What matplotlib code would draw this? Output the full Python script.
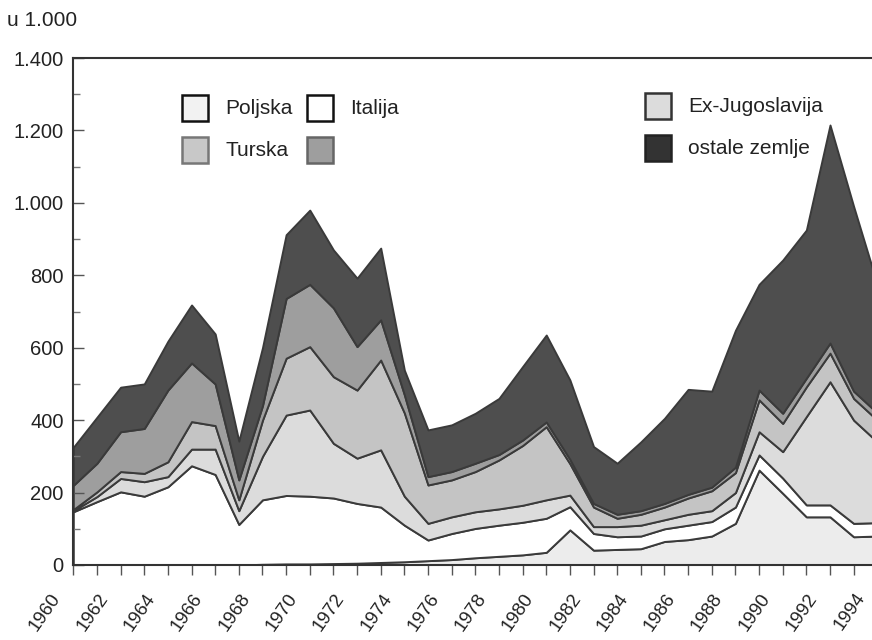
import numpy as np
import matplotlib.pyplot as plt
from matplotlib.patches import Rectangle
from matplotlib.ticker import MultipleLocator, FuncFormatter
import matplotlib.transforms as mtransforms

plt.rcParams['font.family'] = ['Liberation Sans', 'DejaVu Sans']

# u 1.000
years = np.arange(1960, 1995)
poljska = [0, 0, 0, 0, 0, 0, 0, 0, 2, 3, 3, 4, 5, 7, 9, 12, 15, 20, 24, 28,
           35, 97, 41, 43, 45, 65, 70, 80, 115, 262, 198, 133, 133, 78, 80]
italija = [147, 175, 202, 190, 216, 274, 250, 112, 178, 189, 187, 181, 165, 153, 101, 57, 72, 81, 86, 90,
           94, 64, 46, 35, 35, 35, 40, 40, 45, 42, 42, 33, 33, 37, 37]
ex_jugoslavija = [3, 14, 37, 40, 28, 46, 70, 38, 120, 222, 238, 151, 125, 158, 80, 46, 46, 46, 45, 47,
                  51, 32, 19, 28, 30, 25, 30, 30, 40, 64, 73, 244, 340, 285, 223]
turska = [3, 13, 19, 23, 41, 76, 65, 30, 100, 157, 175, 184, 188, 248, 230, 106, 102, 111, 135, 165,
          202, 87, 54, 23, 30, 35, 45, 55, 55, 88, 78, 82, 79, 60, 60]
grcka = [67, 79, 110, 124, 198, 162, 115, 55, 40, 165, 172, 190, 120, 111, 50, 23, 23, 23, 15, 15,
         13, 12, 10, 11, 10, 10, 10, 10, 15, 27, 28, 24, 28, 20, 20]
ostale = [105, 127, 123, 123, 135, 160, 138, 107, 160, 176, 205, 160, 189, 198, 68, 129, 129, 138, 155, 203,
          240, 219, 157, 141, 190, 235, 290, 265, 378, 292, 423, 409, 602, 510, 355]

series = [poljska, italija, ex_jugoslavija, turska, grcka, ostale]
boje = ['#ececec', '#ffffff', '#dcdcdc', '#c4c4c4', '#9e9e9e', '#4e4e4e']
rub = '#3a3a3a'

fig = plt.figure(figsize=(8.72, 6.40), dpi=100)
ax = fig.add_axes([73.3 / 872, 75 / 640, 804 / 872, 507 / 640])

ax.stackplot(years, series, colors=boje, edgecolor=rub, linewidth=1.4)

ax.set_xlim(1960, 1994)
ax.set_ylim(0, 1400)

ax.yaxis.set_major_locator(MultipleLocator(200))
ax.yaxis.set_minor_locator(MultipleLocator(100))
ax.yaxis.set_major_formatter(FuncFormatter(lambda v, p: f"{int(v):,}".replace(",", ".")))
ax.tick_params(axis='y', direction='in', length=8, width=1, color='#555555',
               labelsize=14.5, pad=7, labelcolor='#222222')
ax.tick_params(axis='y', which='minor', direction='in', length=5, width=1, color='#777777')

ax.set_xticks(years)
ax.set_xticklabels([str(g) if g % 2 == 0 else '' for g in years])
ax.tick_params(axis='x', direction='out', length=7, width=1, color='#555555',
               labelsize=13.5, pad=11, labelcolor='#222222')
pomak = mtransforms.ScaledTranslation(-23 / 100, 0, fig.dpi_scale_trans)
for lbl in ax.get_xticklabels():
    lbl.set_rotation(55)
    lbl.set_ha('right')
    lbl.set_va('top')
    lbl.set_rotation_mode('anchor')
    lbl.set_transform(lbl.get_transform() + pomak)

for s in ['left', 'bottom', 'top']:
    ax.spines[s].set_color('#333333')
    ax.spines[s].set_linewidth(1.5)
ax.spines['right'].set_visible(False)

fig.text(7 / 872, 1 - 20 / 640, 'u 1.000', fontsize=15, va='center', ha='left', color='#222222')

# legenda
stavke = [
    (182, 95, 'Poljska', '#f2f2f2', '#111111'),
    (307, 95, 'Italija', '#ffffff', '#111111'),
    (645, 93, 'Ex-Jugoslavija', '#dcdcdc', '#333333'),
    (182, 137, 'Turska', '#c8c8c8', '#777777'),
    (307, 137, '', '#9e9e9e', '#666666'),
    (645, 135, 'ostale zemlje', '#333333', '#222222'),
]
for x, y, tekst, boja, okvir in stavke:
    fig.add_artist(Rectangle((x / 872, 1 - (y + 26) / 640), 26 / 872, 26 / 640,
                             facecolor=boja, edgecolor=okvir, linewidth=1.8,
                             transform=fig.transFigure))
    if tekst:
        fig.text((x + 43) / 872, 1 - (y + 13) / 640, tekst, fontsize=15,
                 va='center', ha='left', color='#222222')

fig.savefig('out.png', dpi=100)
